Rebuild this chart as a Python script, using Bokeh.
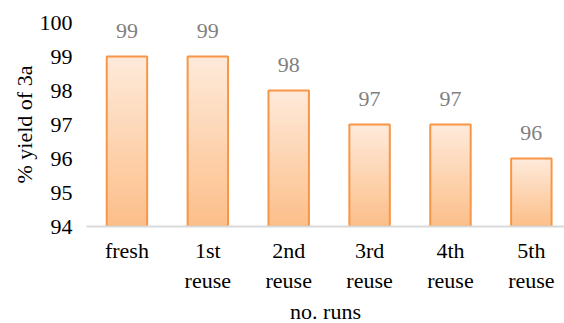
from bokeh.plotting import figure
from bokeh.models import Range1d, FixedTicker, Title
from bokeh.core.properties import value
from bokeh.embed import file_html
from bokeh.resources import INLINE

categories = ["fresh", "1st\nreuse", "2nd\nreuse", "3rd\nreuse", "4th\nreuse", "5th\nreuse"]
yields = [99, 99, 98, 97, 97, 96]
y_ticks = [94, 95, 96, 97, 98, 99, 100]
y_base = 94
x_title = "no. runs"
y_title = "% yield of 3a"

FONT = "Liberation Serif"
FS = "22px"
TOP_COLOR = (254, 234, 218)
BOTTOM_COLOR = (252, 190, 137)
EDGE = "#F79646"

p = figure(width=564, height=323, x_range=Range1d(-0.5, 5.41), y_range=Range1d(94, 100),
           output_backend="svg", toolbar_location=None,
           min_border_left=86, min_border_right=0, min_border_top=22, min_border_bottom=97)
p.outline_line_color = None
p.xgrid.grid_line_color = None
p.ygrid.grid_line_color = None
p.background_fill_color = "white"
p.border_fill_color = "white"

# gradient bars built from slices
N = 40
xs, bots, tops, cols = [], [], [], []
for i, v in enumerate(yields):
    h = v - y_base
    for k in range(N):
        b = y_base + h * k / N
        t = y_base + h * (k + 1) / N
        f = (k + 0.5) / N  # 0 bottom, 1 top
        c = tuple(int(round(BOTTOM_COLOR[j] + (TOP_COLOR[j] - BOTTOM_COLOR[j]) * f)) for j in range(3))
        xs.append(i); bots.append(b); tops.append(t); cols.append("#%02x%02x%02x" % c)
p.vbar(x=xs, bottom=bots, top=tops, width=0.5, fill_color=cols, line_color=cols, line_width=1)
p.vbar(x=list(range(len(yields))), bottom=y_base, top=yields, width=0.5,
       fill_color=None, line_color=EDGE, line_width=2)

p.text(x=list(range(len(yields))), y=yields, text=[str(v) for v in yields],
       text_align="center", text_baseline="bottom", y_offset=-19,
       text_font=value(FONT), text_font_size=FS, text_color="#808080")

p.xaxis.ticker = FixedTicker(ticks=list(range(len(categories))))
p.xaxis.major_label_overrides = {i: c for i, c in enumerate(categories)}
p.xaxis.axis_line_color = "#D9D9D9"
p.xaxis.axis_line_width = 2
p.xaxis.major_tick_line_color = None
p.xaxis.minor_tick_line_color = None
p.xaxis.major_label_text_font = FONT
p.xaxis.major_label_text_font_size = FS
p.xaxis.major_label_text_color = "black"
p.xaxis.major_label_text_line_height = 1.22
p.xaxis.major_label_standoff = 5

xt = Title(text=x_title, align="center", text_font=FONT, text_font_size=FS,
           text_font_style="normal", text_color="black", standoff=0, offset=0)
p.add_layout(xt, "below")

p.yaxis.ticker = FixedTicker(ticks=y_ticks)
p.yaxis.axis_line_color = None
p.yaxis.major_tick_line_color = None
p.yaxis.minor_tick_line_color = None
p.yaxis.major_label_text_font = FONT
p.yaxis.major_label_text_font_size = FS
p.yaxis.major_label_text_color = "black"
p.yaxis.major_label_standoff = 8
p.yaxis.axis_label = y_title
p.yaxis.axis_label_text_font = FONT
p.yaxis.axis_label_text_font_size = FS
p.yaxis.axis_label_text_font_style = "normal"
p.yaxis.axis_label_text_color = "black"
p.yaxis.axis_label_standoff = 0

open("out.html", "w").write(file_html(p, INLINE))
